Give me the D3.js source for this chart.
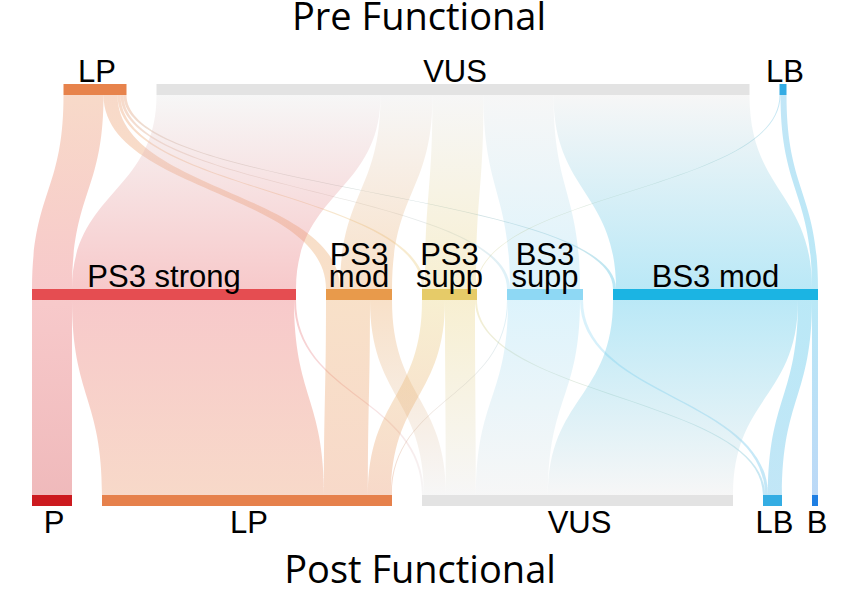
<!DOCTYPE html>
<html><head><meta charset="utf-8">
<script src="https://cdn.jsdelivr.net/npm/d3@7"></script>
<style>body{margin:0;background:#fff}svg{display:block}</style>
</head><body>
<svg id="chart" width="848" height="602"></svg>
<script>
// ---- data ----
const topNodes = ["LP", "VUS", "LB"];
const midNodes = ["PS3 strong", "PS3 mod", "PS3 supp", "BS3 supp", "BS3 mod"];
const botNodes = ["P", "LP", "VUS", "LB", "B"];

const topColors = ["#E7834C", "#E3E3E3", "#34ACE4"];
const midColors = ["#E54D51", "#E89A4B", "#E6CB68", "#8ED8F4", "#1BB4E3"];
const botColors = ["#CC1A1F", "#E6814C", "#E3E3E3", "#34ADE3", "#1F7FE3"];

const midLabelLines = [["PS3 strong"], ["PS3", "mod"], ["PS3", "supp"], ["BS3", "supp"], ["BS3 mod"]];

// pre-functional -> functional evidence
const preSource = ["LP", "LP", "LP", "LP", "LP", "VUS", "VUS", "VUS", "VUS", "VUS", "LB", "LB"];
const preTarget = ["PS3 strong", "PS3 mod", "PS3 supp", "BS3 supp", "BS3 mod",
                   "PS3 strong", "PS3 mod", "PS3 supp", "BS3 supp", "BS3 mod",
                   "PS3 supp", "BS3 mod"];
const preValue  = [40, 14, 3, 3, 3, 224, 52, 51, 70, 196, 1, 6];

// functional evidence -> post-functional
const postSource = ["PS3 strong", "PS3 strong", "PS3 strong", "PS3 mod", "PS3 mod",
                    "PS3 supp", "PS3 supp", "PS3 supp", "BS3 supp", "BS3 supp", "BS3 supp",
                    "BS3 mod", "BS3 mod", "BS3 mod"];
const postTarget = ["P", "LP", "VUS", "LP", "VUS", "LP", "VUS", "LB", "LP", "VUS", "LB",
                    "VUS", "LB", "B"];
const postValue  = [40, 222, 2, 44, 22, 23, 30, 2, 1, 72, 3, 185, 14, 6];

// ---- layout ----
const svg = d3.select("#chart");
const defs = svg.append("defs");
const gap = 30, left = 32, right = 818, cx = 425;

const rows = [
  {names: topNodes, colors: topColors, prefix: "t", y0: 84, y1: 95},
  {names: midNodes, colors: midColors, prefix: "m", y0: 289, y1: 300},
  {names: botNodes, colors: botColors, prefix: "b", y0: 495, y1: 506}
];
const nodes = {};
rows.forEach(r => r.names.forEach((n, i) => {
  nodes[r.prefix + ":" + n] = {name: n, color: r.colors[i], row: r, idx: i, in: [], out: [], val: 0};
}));
const links = [];
preSource.forEach((s, i) => links.push({s: nodes["t:" + s], t: nodes["m:" + preTarget[i]], v: preValue[i]}));
postSource.forEach((s, i) => links.push({s: nodes["m:" + s], t: nodes["b:" + postTarget[i]], v: postValue[i]}));
links.forEach(l => { l.s.out.push(l); l.t.in.push(l); });
Object.values(nodes).forEach(n => {
  n.val = Math.max(d3.sum(n.in, l => l.v), d3.sum(n.out, l => l.v));
});
const rowTotals = rows.map(r => d3.sum(r.names, n => nodes[r.prefix + ":" + n].val));
const maxN = d3.max(rows, r => r.names.length);
const w = d3.scaleLinear().domain([0, d3.max(rowTotals)]).range([0, (right - left) - (maxN - 1) * gap]);

rows.forEach((r, ri) => {
  const width = w(rowTotals[ri]) + (r.names.length - 1) * gap;
  let x = cx - width / 2;
  r.names.forEach(n => {
    const nd = nodes[r.prefix + ":" + n];
    nd.x0 = x; nd.x1 = x + w(nd.val); x = nd.x1 + gap;
  });
});
Object.values(nodes).forEach(n => {
  let x = n.x0;
  n.out.slice().sort((a, b) => a.t.x0 - b.t.x0).forEach(l => { l.sx0 = x; x += w(l.v); l.sx1 = x; });
  x = n.x0;
  n.in.slice().sort((a, b) => a.s.x0 - b.s.x0).forEach(l => { l.tx0 = x; x += w(l.v); l.tx1 = x; });
});

// ---- links ----
const gl = svg.append("g");
links.forEach((l, i) => {
  const ys = l.s.row.y1, yt = l.t.row.y0, ym = (ys + yt) / 2;
  const gid = "g" + i;
  const grad = defs.append("linearGradient").attr("id", gid)
    .attr("gradientUnits", "userSpaceOnUse")
    .attr("x1", 0).attr("y1", ys).attr("x2", 0).attr("y2", yt);
  grad.append("stop").attr("offset", 0).attr("stop-color", l.s.color);
  grad.append("stop").attr("offset", 1).attr("stop-color", l.t.color);
  const p = d3.path();
  p.moveTo(l.sx0, ys);
  p.bezierCurveTo(l.sx0, ym, l.tx0, ym, l.tx0, yt);
  p.lineTo(l.tx1, yt);
  p.bezierCurveTo(l.tx1, ym, l.sx1, ym, l.sx1, ys);
  p.closePath();
  gl.append("path").attr("d", p.toString())
    .attr("fill", `url(#${gid})`).attr("fill-opacity", 0.3);
});

// ---- nodes ----
const gn = svg.append("g");
Object.values(nodes).forEach(n => {
  gn.append("rect").attr("x", n.x0).attr("y", n.row.y0)
    .attr("width", Math.max(1, n.x1 - n.x0)).attr("height", n.row.y1 - n.row.y0)
    .attr("fill", n.color);
});

// ---- labels ----
const font = "'Liberation Sans', Arial, Helvetica, sans-serif";
const gt = svg.append("g").attr("font-family", font).attr("font-size", 31)
  .attr("text-anchor", "middle").attr("fill", "#000");
topNodes.forEach(n => {
  const nd = nodes["t:" + n];
  gt.append("text").attr("x", (nd.x0 + nd.x1) / 2 + 2).attr("y", 82).text(n);
});
midNodes.forEach((n, i) => {
  const nd = nodes["m:" + n];
  const lines = midLabelLines[i];
  const cxn = (nd.x0 + nd.x1) / 2;
  const t = gt.append("text").attr("x", cxn).attr("y", 287 - (lines.length - 1) * 22);
  lines.forEach((ln, j) => {
    t.append("tspan").attr("x", cxn).attr("dy", j === 0 ? 0 : 22).text(ln);
  });
});
botNodes.forEach(n => {
  const nd = nodes["b:" + n];
  gt.append("text").attr("x", (nd.x0 + nd.x1) / 2 + 2).attr("y", 533).text(n);
});

// ---- titles ----
const tf = "'Open Sans', 'Noto Sans', sans-serif";
svg.append("text").attr("x", 419).attr("y", 30).attr("text-anchor", "middle")
  .attr("font-family", tf).attr("font-size", 38).attr("fill", "#000").text("Pre Functional");
svg.append("text").attr("x", 420).attr("y", 583).attr("text-anchor", "middle")
  .attr("font-family", tf).attr("font-size", 38).attr("fill", "#000").text("Post Functional");
</script>
</body></html>
